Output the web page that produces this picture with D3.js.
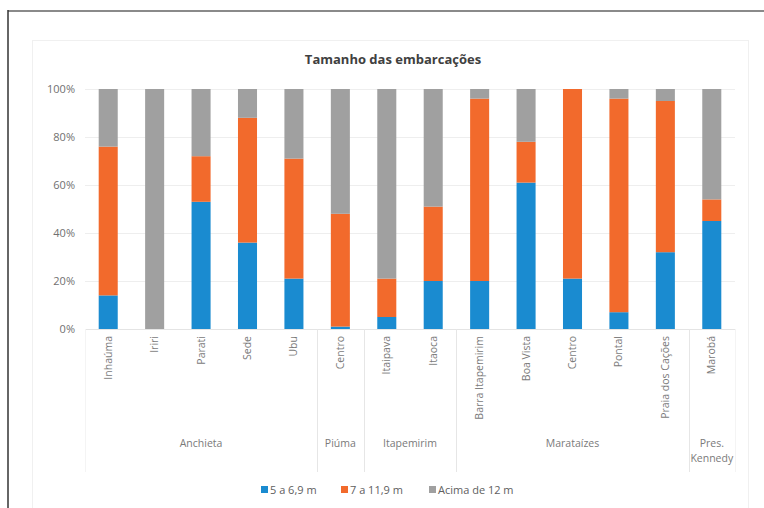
<!DOCTYPE html>
<html>
<head>
<meta charset="utf-8">
<script src="https://cdn.jsdelivr.net/npm/d3@7"></script>
<style>
  html, body { margin: 0; padding: 0; background: #fff; }
  svg { display: block; font-family: "Open Sans", "Noto Sans", sans-serif; }
</style>
</head>
<body>
<svg id="chart" width="764" height="508"></svg>
<script>
// Fishing communities and their municipality
const localities = ["Inhaúma", "Iriri", "Parati", "Sede", "Ubu", "Centro", "Itaipava", "Itaoca",
  "Barra Itapemirim", "Boa Vista", "Centro", "Pontal", "Praia dos Cações", "Marobá"];
const municipalities = ["Anchieta", "Anchieta", "Anchieta", "Anchieta", "Anchieta", "Piúma",
  "Itapemirim", "Itapemirim", "Marataízes", "Marataízes", "Marataízes", "Marataízes", "Marataízes",
  "Pres. Kennedy"];

// Share of boats per size class (%)
const small  = [14, 0, 53, 36, 21, 1, 5, 20, 20, 61, 21, 7, 32, 45];
const medium = [62, 0, 19, 52, 50, 47, 16, 31, 76, 17, 79, 89, 63, 9];
const large  = [24, 100, 28, 12, 29, 52, 79, 49, 4, 22, 0, 4, 5, 46];

const seriesNames = ["5 a 6,9 m", "7 a 11,9 m", "Acima de 12 m"];
const seriesColors = ["#1a8bd0", "#f26a2c", "#a0a0a0"];
const yTicks = [0, 20, 40, 60, 80, 100];

const svg = d3.select("#chart");

// outer frame
svg.append("line").attr("x1", 8).attr("x2", 764).attr("y1", 11).attr("y2", 11)
  .attr("stroke", "#8a8a8a").attr("stroke-width", 2);
svg.append("line").attr("x1", 8).attr("x2", 8).attr("y1", 10).attr("y2", 508)
  .attr("stroke", "#333").attr("stroke-width", 1.5);

// chart area box
svg.append("rect").attr("x", 32.5).attr("y", 40.5).attr("width", 716).attr("height", 470)
  .attr("fill", "none").attr("stroke", "#f0f0f0");

const x = d3.scaleBand().domain(d3.range(localities.length)).range([85, 735]).padding(0);
const y = d3.scaleLinear().domain([0, 100]).range([329, 89]);
const barW = x.bandwidth() * 0.41;

// gridlines
svg.append("g").selectAll("line").data(yTicks.slice(1)).join("line")
  .attr("x1", 85).attr("x2", 735)
  .attr("y1", d => Math.round(y(d)) + 0.5).attr("y2", d => Math.round(y(d)) + 0.5)
  .attr("stroke", "#eeeeee");

// y axis labels
const yAxis = d3.axisLeft(y).tickValues(yTicks).tickFormat(d => d + "%").tickSize(0).tickPadding(10);
const yg = svg.append("g").attr("transform", "translate(85,0)").call(yAxis);
yg.select(".domain").remove();
yg.selectAll("text").attr("fill", "#707070").attr("font-size", 11).attr("font-family", "'Open Sans', sans-serif");

// stacked bars
const rows = localities.map((c, i) => ({ i, s: small[i], m: medium[i], l: large[i] }));
const stack = d3.stack().keys(["s", "m", "l"])(rows);
svg.append("g").selectAll("g").data(stack).join("g")
  .attr("fill", (d, k) => seriesColors[k])
  .selectAll("rect").data(d => d).join("rect")
  .attr("x", d => x(d.data.i) + (x.bandwidth() - barW) / 2)
  .attr("width", barW)
  .attr("y", d => y(d[1]))
  .attr("height", d => y(d[0]) - y(d[1]));

// baseline
svg.append("line").attr("x1", 85).attr("x2", 735).attr("y1", 329.5).attr("y2", 329.5)
  .attr("stroke", "#e4e4e4");

// group separators
const groups = [];
municipalities.forEach((m, i) => {
  const last = groups[groups.length - 1];
  if (last && last.name === m) last.end = i; else groups.push({ name: m, start: i, end: i });
});
const bounds = [0].concat(groups.map(g => g.end + 1));
svg.append("g").selectAll("line").data(bounds).join("line")
  .attr("x1", b => Math.round(x.step() * b + 85) + 0.5)
  .attr("x2", b => Math.round(x.step() * b + 85) + 0.5)
  .attr("y1", 329).attr("y2", 472)
  .attr("stroke", (b, k) => (k === 0 || k === bounds.length - 1) ? "#f4f4f4" : "#e6e6e6");

// locality labels (vertical)
svg.append("g").selectAll("text").data(localities).join("text")
  .attr("transform", (d, i) => `translate(${x(i) + x.bandwidth() / 2 + 3.5},336) rotate(-90)`)
  .attr("text-anchor", "end")
  .attr("font-size", 10.5).attr("fill", "#7a7a7a")
  .text(d => d);

// municipality labels
const gl = svg.append("g").selectAll("text").data(groups).join("text")
  .attr("x", g => (x(g.start) + x(g.end) + x.bandwidth()) / 2)
  .attr("y", 447)
  .attr("text-anchor", "middle")
  .attr("font-size", 10.5).attr("fill", "#7a7a7a");
gl.each(function (g) {
  const parts = g.name.split(" ");
  const t = d3.select(this);
  if (parts.length > 1 && g.start === g.end) {
    parts.forEach((p, k) => t.append("tspan").attr("x", t.attr("x")).attr("dy", k ? 15 : 0).text(p));
  } else {
    t.text(g.name);
  }
});

// title
svg.append("text").attr("x", 393).attr("y", 64).attr("text-anchor", "middle")
  .attr("font-size", 13).attr("font-weight", "bold").attr("fill", "#404040")
  .text("Tamanho das embarcações");

// legend
const legendX = [261, 341, 429];
const lg = svg.append("g").selectAll("g").data(seriesNames).join("g")
  .attr("transform", (d, k) => `translate(${legendX[k]},490)`);
lg.append("rect").attr("x", 0).attr("y", -4).attr("width", 7).attr("height", 7)
  .attr("fill", (d, k) => seriesColors[k]);
lg.append("text").attr("x", 9).attr("y", 4).attr("font-size", 11).attr("fill", "#606060")
  .text(d => d);
</script>
</body>
</html>
